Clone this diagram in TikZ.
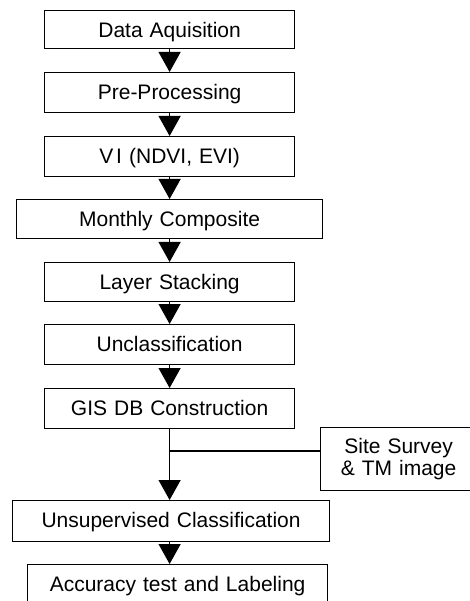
\documentclass[tikz,border=0pt]{standalone}
\usepackage{fontspec}
\setmainfont{Liberation Sans}
\usetikzlibrary{arrows.meta}
\begin{document}
\begin{tikzpicture}[x=1pt,y=-1pt,
  stepbox/.style={draw,line width=1.2pt,anchor=north west,inner sep=0pt,
    align=center,text height=27pt,font=\fontsize{21}{22}\selectfont},
  arr/.style={line width=1.2pt,-{Triangle[width=22pt,length=20pt]}},
  link/.style={line width=1.2pt}]
\useasboundingbox (0,0) rectangle (470,601);
\node[stepbox,text width=250pt,text depth=11pt] (n1) at (44,10) {Data Aquisition};
\node[stepbox,text width=250pt,text depth=13pt] (n2) at (44,72) {Pre-Processing};
\node[stepbox,text width=250pt,text depth=13pt] (n3) at (44,136) {V\kern3pt I (NDVI, EVI)};
\node[stepbox,text width=306pt,text depth=12pt] (n4) at (16,199) {Monthly Composite};
\node[stepbox,text width=250pt,text depth=12pt] (n5) at (44,262) {Layer Stacking};
\node[stepbox,text width=250pt,text depth=13pt] (n6) at (44,324) {Unclassification};
\node[stepbox,text width=250pt,text depth=13pt] (n7) at (44,388) {GIS DB Construction};
\node[stepbox,text width=317pt,text depth=14pt] (n8) at (12,500) {Unsupervised Classification};
\node[stepbox,text width=300pt,text depth=13pt] (n9) at (27,564) {Accuracy test and Labeling};
\node[draw,line width=1.2pt,anchor=north west,inner sep=0pt,align=center,
  text width=156pt,minimum height=63pt,font=\fontsize{21}{22}\selectfont] (site) at (320,427)
  {Site Survey\\\& TM image\hspace*{4pt}};
\draw[arr] (n1.south) -- (n2.north);
\draw[arr] (n2.south) -- (n3.north);
\draw[arr] (n3.south) -- (n4.north);
\draw[arr] (n4.south) -- (n5.north);
\draw[arr] (n5.south) -- (n6.north);
\draw[arr] (n6.south) -- (n7.north);
\draw[arr] (n7.south) -- (n8.north -| n7.south);
\coordinate (j) at (n7.south |- 0,451);
\draw[link] (j) -- (site.west |- j);
\draw[arr] (n8.south -| n7.south) -- (n9.north -| n7.south);
\end{tikzpicture}
\end{document}
